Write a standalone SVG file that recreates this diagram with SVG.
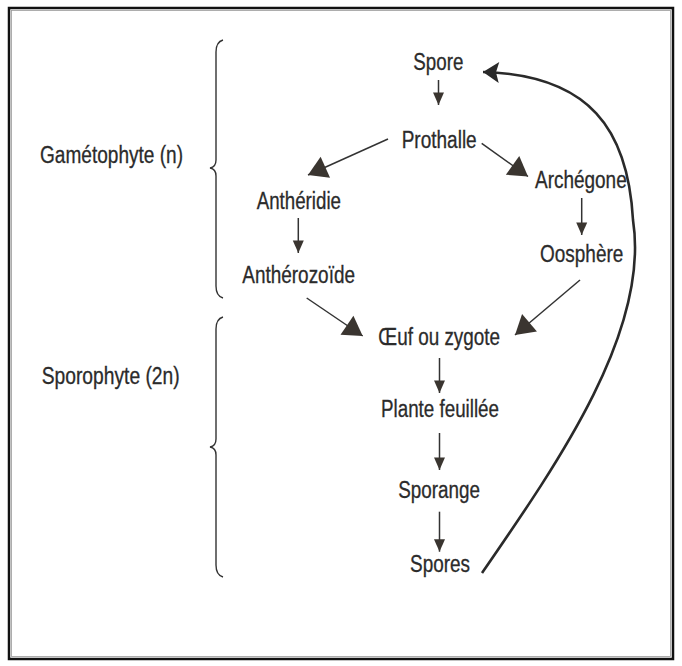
<svg xmlns="http://www.w3.org/2000/svg" width="682" height="666" viewBox="0 0 682 666">
<style>
  text { font-family: "Liberation Sans", Arial, sans-serif; font-size: 23px; fill: #2b2b2b; stroke: #2b2b2b; stroke-width: 0.3; }
  .ln { stroke: #333; stroke-width: 1.5; fill: none; }
  .brace { stroke: #333; stroke-width: 1.4; fill: none; }
  .cycle { stroke: #2a2a2a; stroke-width: 2.6; fill: none; }
</style>
<defs>
  <marker id="small" markerUnits="userSpaceOnUse" markerWidth="13" markerHeight="11" refX="12.5" refY="5.5" orient="auto" overflow="visible">
    <path d="M0,0 L12.5,5.5 L0,11 z" fill="#3a3530"/>
  </marker>
  <marker id="big" markerUnits="userSpaceOnUse" markerWidth="20" markerHeight="24" refX="19" refY="11.5" orient="auto" overflow="visible">
    <path d="M0,0 L19,11.5 L0,23 z" fill="#3a3530"/>
  </marker>
  <marker id="curve" markerUnits="userSpaceOnUse" markerWidth="17" markerHeight="22" refX="16" refY="10.5" orient="auto" overflow="visible">
    <path d="M0,0 L16,10.5 L0,21 L3,10.5 z" fill="#2a2a2a"/>
  </marker>
</defs>
<rect x="0" y="0" width="682" height="666" fill="#ffffff"/>
<rect id="frame" x="9" y="8" width="664" height="651" fill="none" stroke="#111" stroke-width="2.5"/>
<rect x="11.5" y="10.5" width="659" height="646" fill="none" stroke="#999" stroke-width="0.8"/>

<g id="brace-gametophyte">
  <path class="brace" d="M223,40 Q216,42 216,52 L216,160 Q216,167 210,168 Q216,169 216,176 L216,286 Q216,296 223,298"/>
  <text x="40" y="162.5" textLength="143" lengthAdjust="spacingAndGlyphs">Gamétophyte (n)</text>
</g>
<g id="brace-sporophyte">
  <path class="brace" d="M223,317 Q216,319 216,329 L216,439 Q216,446 210,447 Q216,448 216,455 L216,565 Q216,575 223,577"/>
  <text x="41.7" y="383.5" textLength="138" lengthAdjust="spacingAndGlyphs">Sporophyte (2n)</text>
</g>

<g id="spore"><text x="413.3" y="69.5" textLength="50" lengthAdjust="spacingAndGlyphs">Spore</text></g>
<g id="prothalle"><text x="401.7" y="148" textLength="75" lengthAdjust="spacingAndGlyphs">Prothalle</text></g>
<g id="antheridie"><text x="256.7" y="209.3" textLength="84.3" lengthAdjust="spacingAndGlyphs">Anthéridie</text></g>
<g id="archegone"><text x="535" y="188.3" textLength="91.7" lengthAdjust="spacingAndGlyphs">Archégone</text></g>
<g id="antherozoide"><text x="242.3" y="282.7" textLength="112.7" lengthAdjust="spacingAndGlyphs">Anthérozoïde</text></g>
<g id="oosphere"><text x="540" y="261.7" textLength="83.3" lengthAdjust="spacingAndGlyphs">Oosphère</text></g>
<g id="oeuf"><text x="378.3" y="345" textLength="121.7" lengthAdjust="spacingAndGlyphs">Œuf ou zygote</text></g>
<g id="plante"><text x="381" y="416.7" textLength="118" lengthAdjust="spacingAndGlyphs">Plante feuillée</text></g>
<g id="sporange"><text x="398.3" y="498" textLength="81.7" lengthAdjust="spacingAndGlyphs">Sporange</text></g>
<g id="spores"><text x="410" y="571.7" textLength="60" lengthAdjust="spacingAndGlyphs">Spores</text></g>

<g id="connectors">
  <line class="ln" x1="438.5" y1="80" x2="438.5" y2="105" marker-end="url(#small)"/>
  <line class="ln" x1="388" y1="139" x2="308" y2="175" marker-end="url(#big)"/>
  <line class="ln" x1="481.7" y1="143.3" x2="528" y2="176.5" marker-end="url(#big)"/>
  <line class="ln" x1="298.3" y1="218" x2="298.3" y2="253" marker-end="url(#small)"/>
  <line class="ln" x1="581.7" y1="198" x2="581.7" y2="235" marker-end="url(#small)"/>
  <line class="ln" x1="306.7" y1="298" x2="362.7" y2="336" marker-end="url(#big)"/>
  <line class="ln" x1="580" y1="280" x2="515" y2="335" marker-end="url(#big)"/>
  <line class="ln" x1="439.5" y1="358" x2="439.5" y2="393" marker-end="url(#small)"/>
  <line class="ln" x1="439.5" y1="433" x2="439.5" y2="470" marker-end="url(#small)"/>
  <line class="ln" x1="439.5" y1="511.7" x2="439.5" y2="551.7" marker-end="url(#small)"/>
  <path class="cycle" d="M482,573 C560,460 650,330 633,220 C628,130 590,75 483,72" marker-end="url(#curve)"/>
</g>
</svg>
